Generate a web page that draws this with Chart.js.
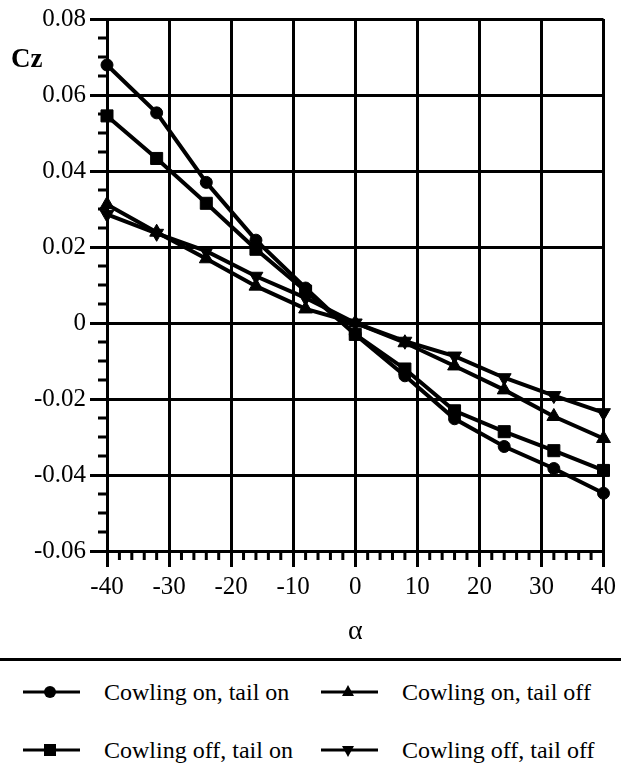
<!DOCTYPE html>
<html>
<head>
<meta charset="utf-8">
<script src="https://cdn.jsdelivr.net/npm/chart.js@4.4.1/dist/chart.umd.min.js"></script>
<style>
  html, body { margin: 0; padding: 0; background: #fff; }
  #wrap { position: relative; width: 621px; height: 776px; overflow: hidden; background: #fff; }
  #chart { position: absolute; left: 0; top: 0; }
  #legend { position: absolute; left: 0; top: 658px; width: 621px; height: 118px; border-top: 3px solid #000; }
  .item { position: absolute; height: 30px; display: flex; align-items: center; font-family: "Liberation Serif", "Times New Roman", serif; font-size: 24px; color: #000; white-space: nowrap; }
  .item svg { display: block; margin-right: 24px; }
</style>
</head>
<body>
<div id="wrap">
  <canvas id="chart" width="621" height="658"></canvas>
  <div id="legend"></div>
</div>
<script>
// ---- data ----
const alphaValues = [-40, -32, -24, -16, -8, 0, 8, 16, 24, 32, 40];
const seriesNames = ["Cowling on, tail on", "Cowling on, tail off", "Cowling off, tail on", "Cowling off, tail off"];
const cowlingOnTailOn   = [0.0679, 0.0553, 0.0370, 0.0218, 0.0092, -0.0030, -0.0139, -0.0252, -0.0325, -0.0383, -0.0448];
const cowlingOnTailOff  = [0.0312, 0.0239, 0.0169, 0.0097, 0.0037, 0.0000, -0.0052, -0.0113, -0.0176, -0.0246, -0.0304];
const cowlingOffTailOn  = [0.0545, 0.0433, 0.0315, 0.0194, 0.0084, -0.0030, -0.0121, -0.0231, -0.0286, -0.0336, -0.0388];
const cowlingOffTailOff = [0.0286, 0.0236, 0.0189, 0.0123, 0.0066, 0.0000, -0.0048, -0.0087, -0.0144, -0.0191, -0.0236];
const xTitle = "α";
const yTitle = "Cz";
const xMin = -40, xMax = 40, xMajor = 10, xMinor = 2;
const yMin = -0.06, yMax = 0.08, yMajor = 0.02, yMinor = 0.005;

const seriesValues = [cowlingOnTailOn, cowlingOnTailOff, cowlingOffTailOn, cowlingOffTailOff];
const markers = [
  { style: 'circle', radius: 6, rotation: 0 },
  { style: 'triangle', radius: 8, rotation: 0 },
  { style: 'rect', radius: 8.5, rotation: 0 },
  { style: 'triangle', radius: 8, rotation: 180 }
];

const datasets = seriesValues.map((vals, i) => ({
  label: seriesNames[i],
  data: alphaValues.map((a, j) => ({ x: a, y: vals[j] })),
  borderColor: '#000',
  backgroundColor: '#000',
  borderWidth: 4,
  pointStyle: markers[i].style,
  pointRadius: markers[i].radius,
  pointRotation: markers[i].rotation,
  pointBackgroundColor: '#000',
  pointBorderColor: '#000',
  pointBorderWidth: 1,
  tension: 0,
  clip: false
}));

const FONT = '"Liberation Serif", "Times New Roman", serif';

const extras = {
  id: 'extras',
  afterDraw(chart) {
    const { ctx, chartArea, scales: { x, y } } = chart;
    ctx.save();
    ctx.strokeStyle = '#000';
    ctx.lineWidth = 3;
    ctx.beginPath();
    const nx = Math.round((xMax - xMin) / xMinor);
    const perX = Math.round(xMajor / xMinor);
    for (let i = 0; i <= nx; i++) {
      if (i % perX === 0) continue;
      const px = x.getPixelForValue(xMin + i * xMinor);
      ctx.moveTo(px, chartArea.bottom);
      ctx.lineTo(px, chartArea.bottom + 9);
    }
    const ny = Math.round((yMax - yMin) / yMinor);
    const perY = Math.round(yMajor / yMinor);
    for (let i = 0; i <= ny; i++) {
      if (i % perY === 0) continue;
      const py = y.getPixelForValue(yMin + i * yMinor);
      ctx.moveTo(chartArea.left - 9, py);
      ctx.lineTo(chartArea.left, py);
    }
    ctx.stroke();
    ctx.fillStyle = '#000';
    ctx.font = 'bold 27px ' + FONT;
    ctx.textBaseline = 'middle';
    ctx.textAlign = 'left';
    ctx.fillText(yTitle, 11, 60);
    ctx.restore();
  }
};

new Chart(document.getElementById('chart'), {
  type: 'line',
  data: { datasets },
  plugins: [extras],
  options: {
    responsive: false,
    animation: false,
    devicePixelRatio: 1,
    layout: { padding: { left: 0, right: 14, top: 17, bottom: 0 } },
    plugins: { legend: { display: false }, tooltip: { enabled: false } },
    scales: {
      x: {
        type: 'linear',
        min: xMin, max: xMax,
        ticks: { stepSize: xMajor, color: '#000', font: { family: FONT, size: 25 }, padding: 5, maxRotation: 0 },
        grid: { color: '#000', lineWidth: 3, tickLength: 16, tickWidth: 3, tickColor: '#000' },
        border: { color: '#000', width: 3 },
        title: { display: true, text: xTitle, color: '#000', font: { family: FONT, size: 28 }, padding: { top: 0, bottom: 10 } },
        afterFit: (s) => { s.height = 107; }
      },
      y: {
        type: 'linear',
        min: yMin, max: yMax,
        ticks: {
          stepSize: yMajor, color: '#000', font: { family: FONT, size: 25 }, padding: 4,
          callback: (v) => { const r = Math.round(v * 100) / 100; return r === 0 ? '0' : r.toFixed(2); }
        },
        grid: { color: '#000', lineWidth: 3, tickLength: 17, tickWidth: 3, tickColor: '#000' },
        border: { color: '#000', width: 3 },
        afterFit: (s) => { s.width = 107; }
      }
    }
  }
});

// ---- HTML legend with line + marker samples ----
function markerSvg(i) {
  const m = markers[i];
  let shape = '';
  const cx = 27, cy = 12;
  if (m.style === 'circle') shape = `<circle cx="${cx}" cy="${cy}" r="6" fill="#000"/>`;
  else if (m.style === 'rect') shape = `<rect x="${cx - 6}" y="${cy - 6}" width="12" height="12" fill="#000"/>`;
  else if (m.rotation === 0) shape = `<polygon points="${cx},${cy - 7} ${cx + 6},${cy + 4} ${cx - 6},${cy + 4}" fill="#000"/>`;
  else shape = `<polygon points="${cx},${cy + 7} ${cx + 6},${cy - 4} ${cx - 6},${cy - 4}" fill="#000"/>`;
  return `<svg width="57" height="24" viewBox="0 0 57 24"><line x1="0" y1="${cy}" x2="57" y2="${cy}" stroke="#000" stroke-width="3"/>${shape}</svg>`;
}
const legendPos = [
  { left: 23, top: 16 },   // cowling on, tail on
  { left: 321, top: 16 },  // cowling on, tail off
  { left: 23, top: 74 },   // cowling off, tail on
  { left: 321, top: 74 }   // cowling off, tail off
];
const legend = document.getElementById('legend');
seriesNames.forEach((name, i) => {
  const d = document.createElement('div');
  d.className = 'item';
  d.style.left = legendPos[i].left + 'px';
  d.style.top = legendPos[i].top + 'px';
  d.innerHTML = markerSvg(i) + '<span></span>';
  d.querySelector('span').textContent = name;
  legend.appendChild(d);
});
</script>
</body>
</html>
